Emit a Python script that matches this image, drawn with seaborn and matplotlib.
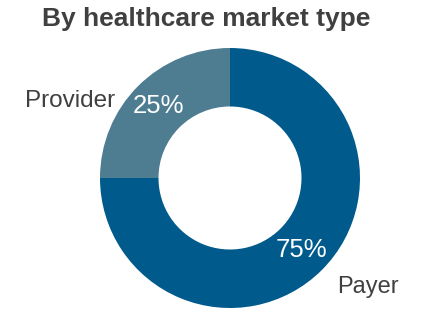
import matplotlib
matplotlib.use("Agg")
import matplotlib.pyplot as plt
import seaborn as sns

# Datos
segments = ["Payer", "Provider"]
shares = [75, 25]
colors = ["#005A8C", "#4E7D91"]
title = "By healthcare market type"

sns.set_theme(style="white")
plt.rcParams["font.family"] = ["Liberation Sans", "DejaVu Sans"]

fig = plt.figure(figsize=(4.24, 3.11), dpi=100)
ax = fig.add_axes([100 / 424, 3 / 311, 260 / 424, 260 / 311])

wedges, _, pct_texts = ax.pie(
    shares,
    colors=colors,
    startangle=90,
    counterclock=False,
    radius=1.0,
    autopct="%d%%",
    pctdistance=0.78,
    wedgeprops=dict(width=0.45, edgecolor="none"),
    textprops=dict(color="white", fontsize=18.5),
)
ax.set_xlim(-1, 1)
ax.set_ylim(-1, 1)
ax.set_aspect("auto")

# Etiquetas de categoría
ax.text(-0.885, 0.59, segments[1], ha="right", va="center",
        fontsize=17.5, color="#404040", clip_on=False)
ax.text(1.06, -0.84, segments[0], ha="center", va="center",
        fontsize=17, color="#404040", clip_on=False)

fig.text(206 / 424, 1 - 19 / 311, title, ha="center", va="center",
         fontsize=19, fontweight="bold", color="#404040")

fig.savefig("out.png", dpi=100)
